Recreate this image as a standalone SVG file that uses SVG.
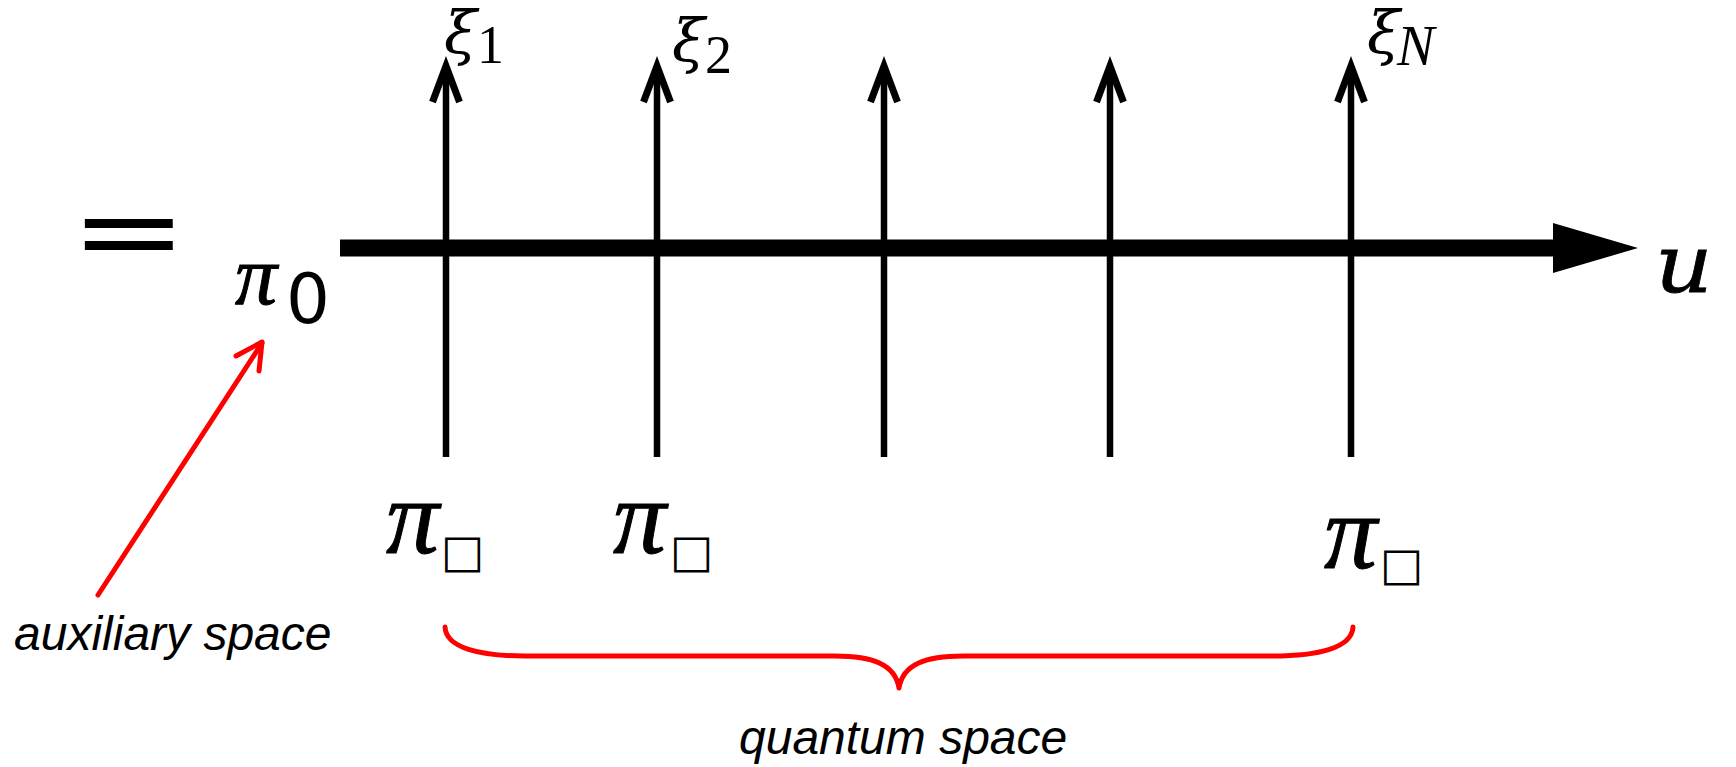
<svg xmlns="http://www.w3.org/2000/svg" width="1736" height="767" viewBox="0 0 1736 767">
<style>
.ax{stroke:#000;stroke-width:17;fill:none}
.vl{stroke:#000;stroke-width:6.5;fill:none}
.chev{stroke:#000;stroke-width:7;fill:none;stroke-linejoin:miter;stroke-linecap:butt}
.red{stroke:#ff0000;stroke-width:5;fill:none;stroke-linecap:round;stroke-linejoin:round}
.mi{font-family:"Liberation Serif",serif;font-style:italic;fill:#000}
.pi{font-family:"Liberation Serif",serif;font-style:italic;fill:#000;stroke:#000;stroke-width:1}
.mi2{font-family:"DejaVu Serif",serif;font-style:italic;fill:#000}
.rm{font-family:"Liberation Serif",serif;font-style:normal;fill:#000}
.sans{font-family:"DejaVu Sans",sans-serif;font-style:normal;fill:#000}
.box{font-family:"DejaVu Sans",sans-serif;font-style:normal;font-weight:bold;fill:#000}
.lab{font-family:"Liberation Sans",Arial,sans-serif;font-style:italic;font-size:48px;fill:#000}
</style>
<defs>
<path id="chev" class="chev" d="M-13.5,38 L0,2 L13.5,38"/>
</defs>
<g id="connectors">
<g id="axis-u">
<line class="ax" x1="340" y1="248" x2="1556" y2="248"/>
<polygon points="1553,223 1638,248 1553,273" fill="#000"/>
</g>
<g id="line-1"><line class="vl" x1="446" y1="68" x2="446" y2="457"/><use href="#chev" x="446" y="64"/></g>
<g id="line-2"><line class="vl" x1="657" y1="68" x2="657" y2="457"/><use href="#chev" x="657" y="64"/></g>
<g id="line-3"><line class="vl" x1="884" y1="68" x2="884" y2="457"/><use href="#chev" x="884" y="64"/></g>
<g id="line-4"><line class="vl" x1="1110" y1="68" x2="1110" y2="457"/><use href="#chev" x="1110" y="64"/></g>
<g id="line-N"><line class="vl" x1="1351" y1="68" x2="1351" y2="457"/><use href="#chev" x="1351" y="64"/></g>
<g id="aux-arrow">
<line class="red" x1="98" y1="595" x2="262" y2="343"/>
<path class="red" d="M236,356 L262,342 L259,371"/>
</g>
<path id="brace" class="red" d="M445,627 C446,648 480,656 525,656 L835,656 C872,656 895,664 899,688 C903,664 926,656 963,656 L1273,656 C1318,656 1352,648 1353,627"/>
</g>
<g id="equals"><text class="sans" font-size="108" transform="translate(70,269) scale(1.3,1)" x="0" y="0">=</text></g>
<g id="pi0"><text x="235" y="304"><tspan class="pi" font-size="84">π</tspan><tspan class="sans" x="286" y="323" font-size="69">0</tspan></text></g>
<g id="xi1"><text x="444" y="54"><tspan class="mi2" font-size="60">ξ</tspan><tspan class="rm" x="477" y="63" font-size="54">1</tspan></text></g>
<g id="xi2"><text x="672" y="62"><tspan class="mi2" font-size="60">ξ</tspan><tspan class="rm" x="705" y="73" font-size="54">2</tspan></text></g>
<g id="xiN"><text x="1367" y="54"><tspan class="mi2" font-size="60">ξ</tspan><tspan class="mi" x="1397" y="65" font-size="56">N</tspan></text></g>
<g id="u"><text class="mi2" font-size="80" transform="translate(1655,292) scale(1.12,1)" x="0" y="0" stroke="#000" stroke-width="0.8">u</text></g>
<g id="pibox1"><text x="386" y="553"><tspan class="pi" font-size="106">π</tspan><tspan class="box" x="441" y="567" font-size="46">□</tspan></text></g>
<g id="pibox2"><text x="613" y="553"><tspan class="pi" font-size="106">π</tspan><tspan class="box" x="670" y="567" font-size="46">□</tspan></text></g>
<g id="piboxN"><text x="1324" y="568"><tspan class="pi" font-size="106">π</tspan><tspan class="box" x="1380" y="580" font-size="46">□</tspan></text></g>
<g id="aux-label"><text class="lab" x="14" y="650">auxiliary space</text></g>
<g id="quantum-label"><text class="lab" x="739" y="754">quantum space</text></g>
</svg>
